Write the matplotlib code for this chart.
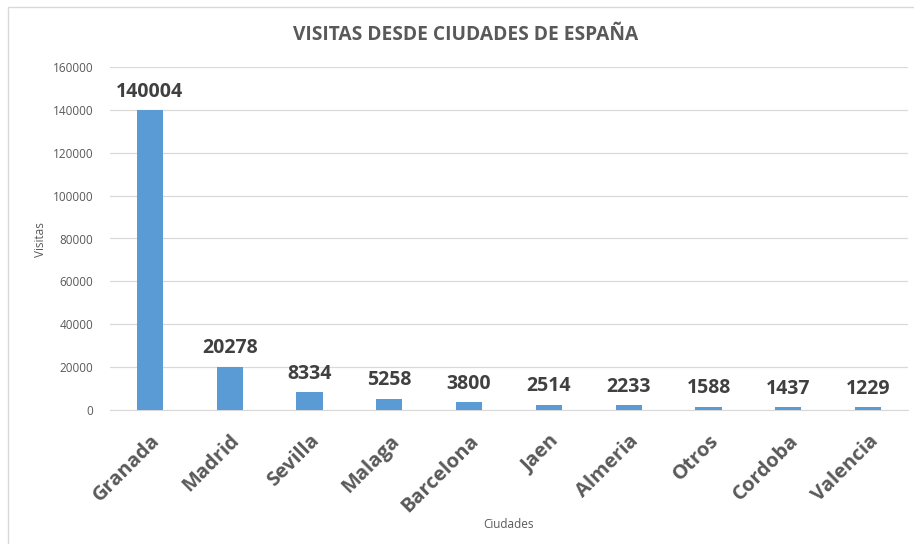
import matplotlib.pyplot as plt
from matplotlib.patches import Rectangle

cities = ["Granada", "Madrid", "Sevilla", "Malaga", "Barcelona", "Jaen",
          "Almeria", "Otros", "Cordoba", "Valencia"]
visits = [140004, 20278, 8334, 5258, 3800, 2514, 2233, 1588, 1437, 1229]
yticks = [0, 20000, 40000, 60000, 80000, 100000, 120000, 140000, 160000]

gray = "#595959"
bar_color = "#5B9BD5"
font = "Open Sans"

fig = plt.figure(figsize=(9.14, 5.44), dpi=100)
fig.patches.append(Rectangle((8/914, -0.05), 1.0, 1.05 - 7/544, transform=fig.transFigure,
                             fill=False, edgecolor="#D9D9D9", linewidth=1))
ax = fig.add_axes([110/914, 1 - 410/544, (908 - 110)/914, (410 - 67)/544])

x = list(range(len(cities)))
ax.bar(x, visits, width=0.33, color=bar_color, zorder=3)
ax.set_xlim(-0.5, len(cities) - 0.5)
ax.set_ylim(0, 160000)
ax.set_yticks(yticks)
ax.set_yticklabels([str(v) for v in yticks], fontsize=8.5, color=gray, family=font)
ax.grid(axis="y", color="#D9D9D9", linewidth=0.9, zorder=0)
for s in ["top", "right", "left"]:
    ax.spines[s].set_visible(False)
ax.spines["bottom"].set_color("#D9D9D9")
ax.tick_params(axis="both", length=0)
ax.tick_params(axis="y", pad=12)

ax.set_xticks(x)
ax.set_xticklabels(cities, rotation=45, ha="right", rotation_mode="anchor",
                   fontsize=14.5, fontweight="bold", color=gray, family=font)
ax.tick_params(axis="x", pad=15)

for xi, v in zip(x, visits):
    ax.annotate(str(v), (xi, v), xytext=(0, 6), textcoords="offset points",
                ha="center", va="bottom", fontsize=14, fontweight="bold",
                color="#404040", family=font)

fig.text(466/914, 1 - 35/544, "VISITAS DESDE CIUDADES DE ESPAÑA", ha="center", va="center",
         fontsize=13.8, fontweight="bold", color=gray, family=font)
fig.text(40/914, 1 - 240/544, "Visitas", rotation=90, ha="center", va="center",
         fontsize=8.5, color=gray, family=font)
fig.text(509/914, 1 - 525/544, "Ciudades", ha="center", va="center",
         fontsize=8.5, color=gray, family=font)

fig.savefig("out.png", dpi=100)
